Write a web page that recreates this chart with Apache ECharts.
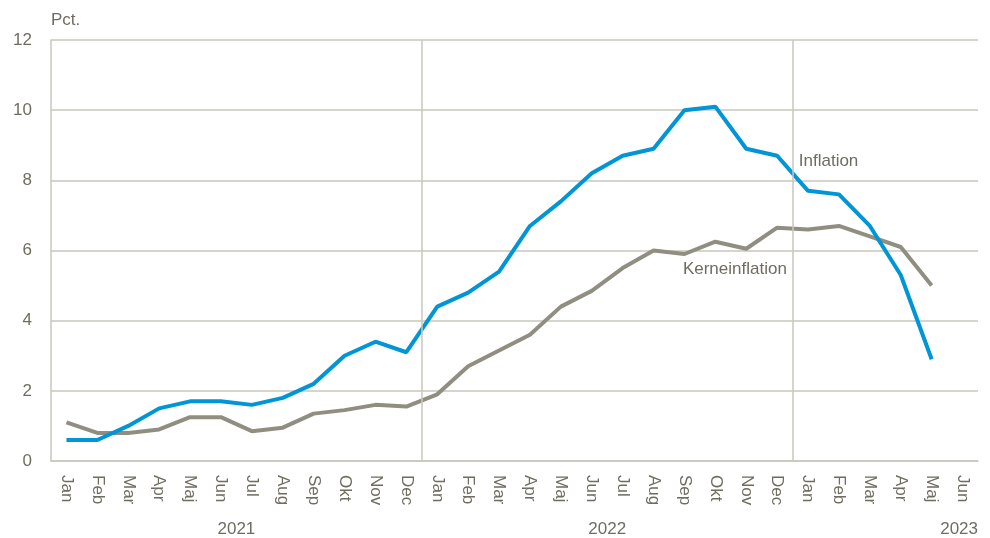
<!DOCTYPE html>
<html>
<head>
<meta charset="utf-8">
<script src="https://cdn.jsdelivr.net/npm/echarts@6/dist/echarts.min.js"></script>
<style>
html,body{margin:0;padding:0;background:#fff;}
#c{width:990px;height:538px;}
</style>
</head>
<body>
<div id="c"></div>
<script>
var months = ['Jan','Feb','Mar','Apr','Maj','Jun','Jul','Aug','Sep','Okt','Nov','Dec',
              'Jan','Feb','Mar','Apr','Maj','Jun','Jul','Aug','Sep','Okt','Nov','Dec',
              'Jan','Feb','Mar','Apr','Maj','Jun'];
var years = {6:'2021', 18:'2022', 30:'2023'};
var yearStarts = [12,24];
var inflation = [0.6,0.6,1.0,1.5,1.7,1.7,1.6,1.8,2.2,3.0,3.4,3.1,
                 4.4,4.8,5.4,6.7,7.4,8.2,8.7,8.9,10.0,10.1,8.9,8.7,
                 7.7,7.6,6.7,5.3,2.9,null];
var kerneinflation = [1.1,0.8,0.8,0.9,1.25,1.25,0.85,0.95,1.35,1.45,1.6,1.55,
                      1.9,2.7,3.15,3.6,4.4,4.85,5.5,6.0,5.9,6.25,6.05,6.65,
                      6.6,6.7,6.4,6.1,5.0,null];
var yTicks = [0,2,4,6,8,10,12];
var annotations = [
  {name:'Inflation', coord:[24.2, 8.55]},
  {name:'Kerneinflation', coord:[20.45, 5.45]}
];

var FONT = '"Liberation Sans", Arial, sans-serif';
var TXT = '#6f6d60';
var GRID = '#c9c7bc';

var chart = echarts.init(document.getElementById('c'), null, {renderer:'canvas'});
chart.setOption({
  animation:false,
  backgroundColor:'#fff',
  grid:{left:51,right:12,top:40,bottom:77},
  xAxis:[{
    type:'category',
    data:months,
    boundaryGap:true,
    axisLine:{show:true,lineStyle:{color:GRID,width:1.5}},
    axisTick:{show:false},
    axisLabel:{interval:0,rotate:-90,margin:14,color:TXT,fontFamily:FONT,fontSize:17,align:'left',verticalAlign:'middle'},
    splitLine:{show:false}
  },{
    type:'value',min:0,max:months.length,interval:6,position:'bottom',
    axisLine:{show:false},axisTick:{show:false},splitLine:{show:false},
    axisLabel:{show:true,margin:60,color:TXT,fontFamily:FONT,fontSize:17,
      alignMaxLabel:'right',
      formatter:function(v){return years[v]||'';}}
  }],
  yAxis:{
    type:'value',
    min:yTicks[0],max:yTicks[yTicks.length-1],interval:2,
    name:'Pct.',nameLocation:'end',nameGap:11,
    nameTextStyle:{color:TXT,fontFamily:FONT,fontSize:17,align:'left',verticalAlign:'bottom'},
    axisLine:{show:true,lineStyle:{color:GRID,width:1.5}},
    axisTick:{show:false},
    axisLabel:{margin:19,color:TXT,fontFamily:FONT,fontSize:17},
    splitLine:{show:true,lineStyle:{color:GRID,width:1.5}}
  },
  series:[
    {name:'sep',type:'line',xAxisIndex:1,data:[],silent:true,
     markLine:{silent:true,symbol:'none',label:{show:false},
       lineStyle:{color:GRID,width:1.5,type:'solid'},
       data:yearStarts.map(function(v){return {xAxis:v};})},
     markPoint:{silent:true,symbol:'circle',symbolSize:0,
       label:{show:true,position:'inside',align:'left',verticalAlign:'middle',
         color:TXT,fontFamily:FONT,fontSize:17,formatter:'{b}'},
       data:annotations.map(function(a){return {name:a.name,coord:a.coord};})}},
    {name:'Inflation',type:'line',data:inflation,symbol:'none',
     lineStyle:{color:'#0095d6',width:4},itemStyle:{color:'#0095d6'},z:3},
    {name:'Kerneinflation',type:'line',data:kerneinflation,symbol:'none',
     lineStyle:{color:'#908e81',width:4},itemStyle:{color:'#908e81'},z:2}
  ]
});
</script>
</body>
</html>
